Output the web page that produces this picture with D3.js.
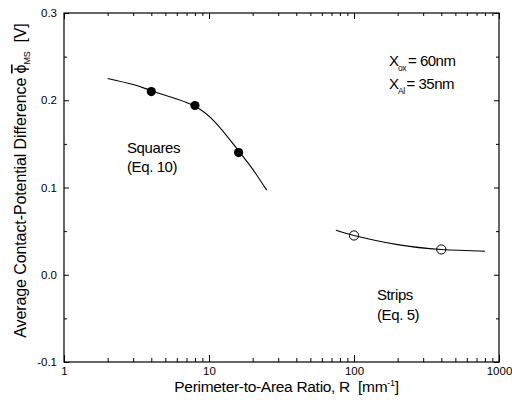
<!DOCTYPE html>
<html>
<head>
<meta charset="utf-8">
<script src="https://cdn.jsdelivr.net/npm/d3@7"></script>
<style>
  html, body { margin: 0; padding: 0; background: #fff; }
  svg { display: block; font-family: "Liberation Sans", Arial, sans-serif; }
</style>
</head>
<body>
<div id="chart"></div>
<script>
// measured points
const squaresR = [4, 8, 16];
const squaresPhi = [0.210, 0.194, 0.140];
const stripsR = [100, 400];
const stripsPhi = [0.045, 0.029];

// model curves
const squaresFitR = [2, 3, 4, 6, 8, 11, 16, 20, 25];
const squaresFitPhi = [0.225, 0.218, 0.211, 0.2015, 0.193, 0.175, 0.142, 0.121, 0.097];
const stripsFitR = [75, 100, 200, 400, 800];
const stripsFitPhi = [0.051, 0.045, 0.0345, 0.029, 0.027];

const xTickValues = [1, 10, 100, 1000];
const yTickValues = [-0.1, 0.0, 0.1, 0.2, 0.3];
const yMinorValues = [-0.05, 0.05, 0.15, 0.25];

const chart = {
  width: 512,
  height: 400,
  margin: { top: 13, right: 13, bottom: 38, left: 64 },
};

const svg = d3.select("#chart")
  .append("svg")
  .attr("width", chart.width)
  .attr("height", chart.height);

let x = d3.scaleLog()
  .domain([1, 1000])
  .range([chart.margin.left, chart.width - chart.margin.right]);

let y = d3.scaleLinear()
  .domain([-0.1, 0.3])
  .range([chart.height - chart.margin.bottom, chart.margin.top]);

const plotBottom = chart.height - chart.margin.bottom;
const plotTop = chart.margin.top;
const plotLeft = chart.margin.left;
const plotRight = chart.width - chart.margin.right;

let xMinor = x.ticks().filter(d => !xTickValues.includes(d));

// bottom axis, ticks pointing inward
svg.append("g")
  .attr("transform", `translate(0,${plotBottom})`)
  .call(d3.axisBottom(x).tickValues(xTickValues).tickFormat(d3.format("d"))
    .tickSize(-7).tickPadding(5).tickSizeOuter(0))
  .call(g => g.selectAll("text").attr("font-size", 11.5).attr("fill", "#000"));

svg.append("g")
  .attr("transform", `translate(0,${plotBottom})`)
  .call(d3.axisBottom(x).tickValues(xMinor).tickFormat("").tickSize(-4).tickSizeOuter(0));

// top axis
svg.append("g")
  .attr("transform", `translate(0,${plotTop})`)
  .call(d3.axisTop(x).tickValues(xTickValues).tickFormat("").tickSize(-6).tickSizeOuter(0));

svg.append("g")
  .attr("transform", `translate(0,${plotTop})`)
  .call(d3.axisTop(x).tickValues(xMinor).tickFormat("").tickSize(-3).tickSizeOuter(0));

// left axis
svg.append("g")
  .attr("transform", `translate(${plotLeft},0)`)
  .call(d3.axisLeft(y).tickValues(yTickValues).tickFormat(d => d.toFixed(1))
    .tickSize(-5).tickPadding(7).tickSizeOuter(0))
  .call(g => g.selectAll("text").attr("font-size", 11.5).attr("fill", "#000"));

svg.append("g")
  .attr("transform", `translate(${plotLeft},0)`)
  .call(d3.axisLeft(y).tickValues(yMinorValues).tickFormat("").tickSize(-3).tickSizeOuter(0));

// right axis
svg.append("g")
  .attr("transform", `translate(${plotRight},0)`)
  .call(d3.axisRight(y).tickValues(yTickValues).tickFormat("").tickSize(-5).tickSizeOuter(0));

svg.append("g")
  .attr("transform", `translate(${plotRight},0)`)
  .call(d3.axisRight(y).tickValues(yMinorValues).tickFormat("").tickSize(-3).tickSizeOuter(0));

svg.selectAll(".domain").remove();
svg.selectAll(".tick line").attr("stroke", "#000").attr("stroke-width", 1);

// frame
svg.append("rect")
  .attr("x", plotLeft)
  .attr("y", plotTop)
  .attr("width", plotRight - plotLeft)
  .attr("height", plotBottom - plotTop)
  .attr("fill", "none")
  .attr("stroke", "#000")
  .attr("stroke-width", 1.2);

// fitted curves
let line = d3.line()
  .x(d => x(d[0]))
  .y(d => y(d[1]))
  .curve(d3.curveNatural);

svg.append("path")
  .datum(d3.zip(squaresFitR, squaresFitPhi))
  .attr("d", line)
  .attr("fill", "none")
  .attr("stroke", "#000")
  .attr("stroke-width", 1.1);

svg.append("path")
  .datum(d3.zip(stripsFitR, stripsFitPhi))
  .attr("d", line)
  .attr("fill", "none")
  .attr("stroke", "#000")
  .attr("stroke-width", 1.1);

// markers
svg.append("g")
  .selectAll("circle")
  .data(d3.zip(squaresR, squaresPhi))
  .join("circle")
  .attr("cx", d => x(d[0]))
  .attr("cy", d => y(d[1]))
  .attr("r", 4.6)
  .attr("fill", "#000");

svg.append("g")
  .selectAll("circle")
  .data(d3.zip(stripsR, stripsPhi))
  .join("circle")
  .attr("cx", d => x(d[0]))
  .attr("cy", d => y(d[1]))
  .attr("r", 4.6)
  .attr("fill", "none")
  .attr("stroke", "#000")
  .attr("stroke-width", 1);

// annotations
const annoFont = 15;

let note = (tx, ty, str) => svg.append("text")
  .attr("x", tx)
  .attr("y", ty)
  .attr("font-size", annoFont)
  .attr("letter-spacing", -0.4)
  .attr("fill", "#000")
  .text(str);

note(127, 153, "Squares");
note(127, 172, "(Eq. 10)");
note(377, 300, "Strips");
note(377, 320, "(Eq. 5)");

let xNote = (ty, sub, str) => {
  let t = svg.append("text")
    .attr("x", 389)
    .attr("y", ty)
    .attr("font-size", annoFont)
    .attr("letter-spacing", -0.5)
    .attr("fill", "#000");
  t.append("tspan").text("X");
  t.append("tspan").attr("font-size", 8.5).attr("dy", 5).attr("dx", -0.5).text(sub);
  t.append("tspan").attr("dy", -5).attr("dx", 2).text("= " + str);
};

xNote(66, "ox", "60nm");
xNote(89, "Al", "35nm");

// axis titles
let xTitle = svg.append("text")
  .attr("x", (plotLeft + plotRight) / 2 + 5)
  .attr("y", 392)
  .attr("text-anchor", "middle")
  .attr("font-size", 15.5)
  .attr("letter-spacing", -0.3)
  .style("white-space", "pre")
  .attr("fill", "#000");
xTitle.append("tspan").text("Perimeter-to-Area Ratio, R  [mm");
xTitle.append("tspan").attr("font-size", 9).attr("dy", -6).text("-1");
xTitle.append("tspan").attr("dy", 6).text("]");

let yTitle = svg.append("text")
  .attr("transform", `translate(26,${(plotTop + plotBottom) / 2 - 7}) rotate(-90)`)
  .attr("text-anchor", "middle")
  .attr("font-size", 16)
  .attr("letter-spacing", -0.1)
  .style("white-space", "pre")
  .attr("fill", "#000");
yTitle.append("tspan").text("Average Contact-Potential Difference ");
yTitle.append("tspan").style("text-decoration", "overline").text("\u03D5");
yTitle.append("tspan").attr("font-size", 9).attr("dy", 4).text("MS");
yTitle.append("tspan").attr("dy", -4).text("  [V]");
</script>
</body>
</html>
